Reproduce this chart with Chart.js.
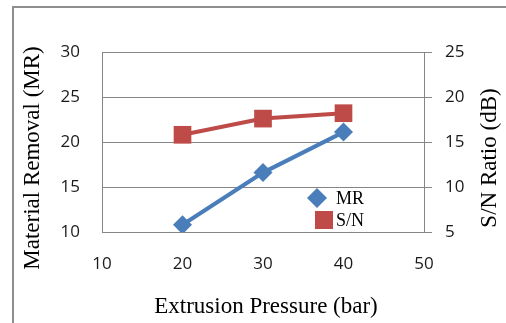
<!DOCTYPE html>
<html>
<head>
<meta charset="utf-8">
<title>Extrusion Pressure vs MR and S/N</title>
<script src="https://cdn.jsdelivr.net/npm/chart.js@4.4.1/dist/chart.umd.min.js"></script>
<style>
    html, body { margin: 0; padding: 0; background: #fff; }
    #wrap { position: relative; width: 506px; height: 323px; overflow: hidden; }
    #frame {
        position: absolute; left: 12px; top: 6px; width: 600px; height: 400px;
        border-left: 2px solid #8e8e8e; border-top: 2px solid #8e8e8e;
    }
    #chart { position: absolute; left: 0; top: 0; }
</style>
</head>
<body>
<div id="wrap">
    <div id="frame"></div>
    <canvas id="chart" width="506" height="323"></canvas>
</div>
<script>
// Extrusion pressure levels (bar)
const pressure = [20, 30, 40];
// Material removal at each pressure
const materialRemoval = [10.8, 16.6, 21.1];
// Signal-to-noise ratio (dB) at each pressure
const snRatio = [15.8, 17.6, 18.2];

const mrTicks = [10, 15, 20, 25, 30];
const snTicks = [5, 10, 15, 20, 25];
const pressureTicks = [10, 20, 30, 40, 50];

const gridColor = '#868686';
const tickFont = { family: "'Open Sans', sans-serif", size: 17 };
const titleFont = "23px 'Liberation Serif', 'Times New Roman', serif";

// Axis titles: x under the tick labels, both y titles read bottom to top
const axisTitles = {
    id: 'axisTitles',
    afterDraw(chart) {
        const ctx = chart.ctx;
        ctx.save();
        ctx.font = titleFont;
        ctx.fillStyle = '#000';
        ctx.textAlign = 'center';
        ctx.textBaseline = 'middle';
        ctx.fillText('Extrusion Pressure (bar)', 266, 307);
        [[33, 'Material Removal (MR)'], [490, 'S/N Ratio (dB)']].forEach(function (t) {
            ctx.save();
            ctx.translate(t[0], 158);
            ctx.rotate(-Math.PI / 2);
            ctx.fillText(t[1], 0, 0);
            ctx.restore();
        });
        ctx.restore();
    }
};

// Small legend inside the plot area
const innerLegend = {
    id: 'innerLegend',
    afterDatasetsDraw(chart) {
        const ctx = chart.ctx;
        const ds = chart.data.datasets;
        ctx.save();
        // diamond
        ctx.fillStyle = ds[0].backgroundColor;
        ctx.beginPath();
        ctx.moveTo(317, 188);
        ctx.lineTo(327, 198);
        ctx.lineTo(317, 208);
        ctx.lineTo(307, 198);
        ctx.closePath();
        ctx.fill();
        // square
        ctx.fillStyle = ds[1].backgroundColor;
        ctx.fillRect(315, 211, 18, 18);

        ctx.fillStyle = '#000';
        ctx.font = "18px 'Liberation Serif', 'Times New Roman', serif";
        ctx.textBaseline = 'middle';
        ctx.fillText(ds[0].label, 336, 199);
        ctx.fillText(ds[1].label, 336, 221);
        ctx.restore();
    }
};

new Chart(document.getElementById('chart'), {
    type: 'line',
    data: {
        datasets: [
            {
                label: 'MR',
                data: pressure.map((p, i) => ({ x: p, y: materialRemoval[i] })),
                yAxisID: 'y',
                borderColor: '#4A7EBB',
                backgroundColor: '#4A7EBB',
                borderWidth: 4,
                pointStyle: 'rectRot',
                pointRadius: 9.5,
                pointBorderWidth: 0,
                tension: 0
            },
            {
                label: 'S/N',
                data: pressure.map((p, i) => ({ x: p, y: snRatio[i] })),
                yAxisID: 'y1',
                borderColor: '#BE4B48',
                backgroundColor: '#BE4B48',
                borderWidth: 4,
                pointStyle: 'rect',
                pointRadius: 12.5,
                pointBorderWidth: 0,
                tension: 0
            }
        ]
    },
    options: {
        responsive: false,
        animation: false,
        layout: { padding: { top: 52 } },
        plugins: {
            legend: { display: false },
            tooltip: { enabled: false }
        },
        scales: {
            x: {
                type: 'linear',
                min: 10,
                max: 50,
                afterBuildTicks: function (scale) {
                    scale.ticks = pressureTicks.map(v => ({ value: v }));
                },
                afterFit: function (scale) { scale.height = 91; },
                grid: { display: false },
                border: { display: true, color: gridColor },
                ticks: { font: tickFont, color: '#1a1a1a', padding: 14, maxRotation: 0 }
            },
            y: {
                position: 'left',
                min: 10,
                max: 30,
                afterBuildTicks: function (scale) {
                    scale.ticks = mrTicks.map(v => ({ value: v }));
                },
                afterFit: function (scale) { scale.width = 102; },
                grid: { color: gridColor, drawTicks: false },
                border: { color: gridColor },
                ticks: { font: tickFont, color: '#1a1a1a', padding: 22 }
            },
            y1: {
                position: 'right',
                min: 5,
                max: 25,
                afterBuildTicks: function (scale) {
                    scale.ticks = snTicks.map(v => ({ value: v }));
                },
                afterFit: function (scale) { scale.width = 82; },
                grid: { color: gridColor, drawOnChartArea: false, drawTicks: true, tickLength: 8 },
                border: { color: gridColor },
                ticks: { font: tickFont, color: '#1a1a1a', padding: 13 }
            }
        }
    },
    plugins: [axisTitles, innerLegend]
});
</script>
</body>
</html>
